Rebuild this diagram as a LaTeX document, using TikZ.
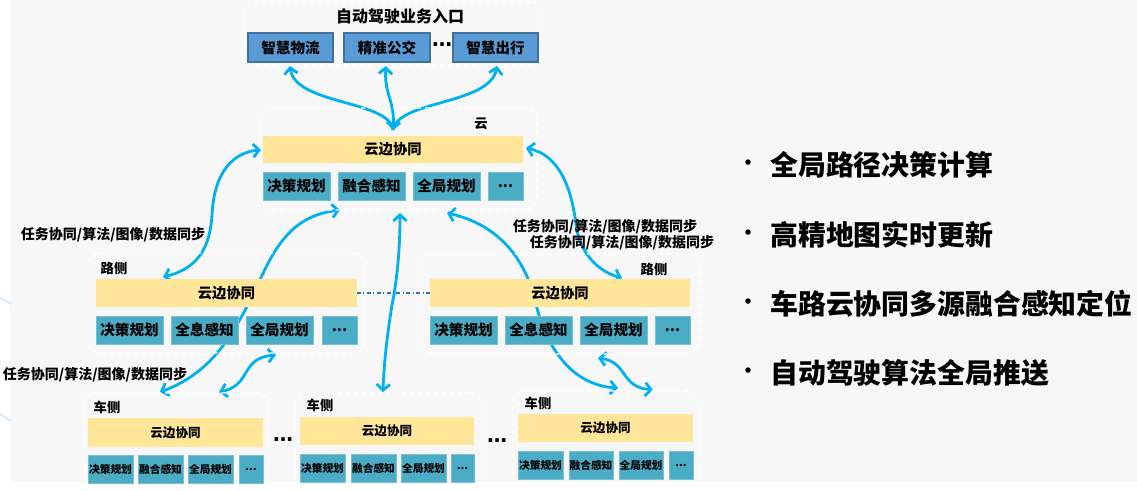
\documentclass[tikz,border=0pt]{standalone}
\usepackage{fontspec}
\setmainfont{Noto Sans CJK SC}
\newfontfamily\dvs{DejaVu Sans}
\usetikzlibrary{arrows.meta}
\definecolor{bgc}{HTML}{F7F7F7}
\definecolor{barY}{HTML}{FFE699}
\definecolor{tealB}{HTML}{4BACC6}
\definecolor{blueB}{HTML}{5B9BD5}
\definecolor{blueD}{HTML}{41719C}
\definecolor{arrC}{HTML}{00B0F0}
\definecolor{dashC}{HTML}{2E75B6}
\newcommand{\fsz}[1]{\fontsize{#1}{#1}\selectfont}
\begin{document}
\begin{tikzpicture}[x=0.75pt,y=-0.75pt,
  sz/.style 2 args={minimum width=#1*0.75pt, minimum height=#2*0.75pt},
  blk/.style={anchor=north west, inner sep=0pt, outer sep=0pt},
  grp/.style={blk, draw=white, dashed, line width=0.9pt, rounded corners=9pt},
  bar/.style={blk, fill=barY, font=\bfseries\fsz{10.7}},
  vbar/.style={blk, fill=barY, font=\bfseries\fsz{9.4}},
  sbox/.style={blk, fill=tealB, draw=tealB!75!white, line width=0.5pt, font=\bfseries\fsz{10.9}},
  vbox/.style={blk, fill=tealB, draw=tealB!75!white, line width=0.5pt, font=\bfseries\fsz{8}},
  topbox/.style={blk, fill=blueB, draw=blueD, line width=0.8pt, font=\bfseries\fsz{10.9}},
  ttl/.style={inner sep=0pt, font=\bfseries\fsz{12}},
  tag/.style={inner sep=0pt, font=\bfseries\fsz{10}},
  lbl/.style={inner sep=0pt, font=\bfseries\fsz{10.5}},
  dots/.style={inner sep=0pt, font=\dvs\bfseries\fsz{15}},
  bul/.style={inner sep=0pt, anchor=west, font=\bfseries\fsz{20.9}},
  bdot/.style={inner sep=0pt, font=\dvs\fsz{14}},
  conn/.style={draw=arrC, line width=2.1pt, -{Straight Barb[length=4.5pt,width=10pt]}},
  conn2/.style={draw=arrC, line width=2.1pt, {Straight Barb[length=4.5pt,width=10pt]}-{Straight Barb[length=4.5pt,width=10pt]}},
  ddash/.style={draw=dashC, line width=0.8pt, dash pattern=on 3pt off 1.8pt on 0.8pt off 1.8pt}
]
\useasboundingbox (0,0) rectangle (1137,490);
\clip (0,0) rectangle (1137,490);
\fill[white] (0,0) rectangle (1137,490);
\fill[bgc] (10,0) rectangle (1137,482);
\draw[arrC!25, line width=1pt] (0,298) .. controls (5,300) .. (11,304);
\draw[arrC!25, line width=1pt] (0,414) .. controls (5,417) .. (11,421);

% connector end points
\coordinate (ctop) at (393,130);
\coordinate (a1) at (290,66);
\coordinate (a2) at (386,66);
\coordinate (a3) at (497,66);
\coordinate (lt) at (163,277);
\coordinate (cl1) at (261,150);
\coordinate (cb1) at (340,210);
\coordinate (vl1) at (160,392);
\coordinate (sa) at (219,392);
\coordinate (sb) at (276,355);
\coordinate (mt) at (400,213);
\coordinate (mb) at (383,392);
\coordinate (cb2) at (447,213);
\coordinate (vr1) at (618,388);
\coordinate (sc) at (598,358);
\coordinate (sd) at (653,390);
\coordinate (cr1) at (526,148);
\coordinate (rt) at (622,278);

% connectors (behind the boxes)
\draw[conn] (ctop) .. controls (390,100) and (295,105) .. (a1);
\draw[conn2] (ctop) .. controls (395,100) and (384,95) .. (a2);
\draw[conn] (ctop) .. controls (398,100) and (490,105) .. (a3);
\draw[conn2] (lt) .. controls (200,268) and (210,245) .. (212,215) .. controls (214,170) and (235,152) .. (cl1);
\draw[conn2] (vl1) .. controls (220,370) and (240,320) .. (260,280) .. controls (280,235) and (300,215) .. (cb1);
\draw[conn2] (sa) .. controls (252,385) and (240,358) .. (sb);
\draw[conn2] (mt) .. controls (400,260) and (395,290) .. (392,305) .. controls (388,330) and (384,360) .. (mb);
\draw[conn2] (cb2) .. controls (500,225) and (525,260) .. (535,300) .. controls (545,345) and (570,385) .. (vr1);
\draw[conn2] (sc) .. controls (628,362) and (620,387) .. (sd);
\draw[conn2] (cr1) .. controls (560,155) and (572,190) .. (576,225) .. controls (580,255) and (600,272) .. (rt);

% top entry
\node[grp, sz={299}{63}] (topg) at (243,2) {};
\node[ttl] (ttl) at (400,16) {自动驾驶业务入口};
\node[topbox, sz={85}{29}] (b1) at (248,33) {智慧物流};
\node[topbox, sz={86}{29}] (b2) at (344,33) {精准公交};
\node[dots] (bd) at (442,47) {⋯};
\node[topbox, sz={85}{29}] (b3) at (453,33) {智慧出行};

% cloud
\node[grp, sz={277}{102}] (cg) at (260,108) {};
\node[tag] (cl) at (481,124) {云};
\node[bar, sz={260}{27}] (cbar) at (263,136) {云边协同};
\node[sbox, sz={67}{28}] (c1) at (263,172) {决策规划};
\node[sbox, sz={67}{28}] (c2) at (338,172) {融合感知};
\node[sbox, sz={67}{28}] (c3) at (413,172) {全局规划};
\node[sbox, sz={35}{28}] (c4) at (488,172) {...};

% left roadside
\node[grp, sz={277}{100}] (lg) at (88,253) {};
\node[tag] (ll) at (114,268) {路侧};
\node[bar, sz={261}{28}] (lbar) at (96,279) {云边协同};
\node[sbox, sz={67}{28}] (l1) at (96,316) {决策规划};
\node[sbox, sz={67}{28}] (l2) at (171,316) {全息感知};
\node[sbox, sz={67}{28}] (l3) at (246,316) {全局规划};
\node[sbox, sz={35}{28}] (l4) at (322,316) {...};

% right roadside
\node[grp, sz={277}{100}] (rg) at (422,254) {};
\node[tag] (rl) at (654,269) {路侧};
\node[bar, sz={260}{28}] (rbar) at (430,279) {云边协同};
\node[sbox, sz={67}{28}] (r1) at (430,316) {决策规划};
\node[sbox, sz={67}{28}] (r2) at (505,316) {全息感知};
\node[sbox, sz={67}{28}] (r3) at (580,316) {全局规划};
\node[sbox, sz={35}{28}] (r4) at (655,316) {...};

% vehicles
\node[grp, sz={186}{110}] (vg1) at (83,393) {};
\node[tag] (vt1) at (107,407) {车侧};
\node[vbar, sz={175}{29}] (vb1) at (88,418) {云边协同};
\node[vbox, sz={45}{28}] (v11) at (88,455) {决策规划};
\node[vbox, sz={45}{28}] (v12) at (138,455) {融合感知};
\node[vbox, sz={45}{28}] (v13) at (188,455) {全局规划};
\node[vbox, sz={24}{28}] (v14) at (239,455) {...};
\node[dots] (vd1) at (283,442) {⋯};

\node[grp, sz={187}{110}] (vg2) at (295,393) {};
\node[tag] (vt2) at (320,405) {车侧};
\node[vbar, sz={174}{28}] (vb2) at (300,417) {云边协同};
\node[vbox, sz={45}{28}] (v21) at (300,454) {决策规划};
\node[vbox, sz={45}{28}] (v22) at (351,454) {融合感知};
\node[vbox, sz={45}{28}] (v23) at (401,454) {全局规划};
\node[vbox, sz={23}{28}] (v24) at (451,454) {...};
\node[dots] (vd2) at (497,443) {⋯};

\node[grp, sz={186}{110}] (vg3) at (513,391) {};
\node[tag] (vt3) at (538,403) {车侧};
\node[vbar, sz={175}{28}] (vb3) at (518,414) {云边协同};
\node[vbox, sz={45}{28}] (v31) at (518,451) {决策规划};
\node[vbox, sz={44}{28}] (v32) at (569,451) {融合感知};
\node[vbox, sz={44}{28}] (v33) at (619,451) {全局规划};
\node[vbox, sz={24}{28}] (v34) at (669,451) {...};

% labels
\node[lbl] (t1) at (113,235) {任务协同/算法/图像/数据同步};
\node[lbl] (t2) at (605,227) {任务协同/算法/图像/数据同步};
\node[lbl] (t3) at (622,243) {任务协同/算法/图像/数据同步};
\node[lbl] (t4) at (95,375) {任务协同/算法/图像/数据同步};

% bullets
\node[bdot] (d1) at (748,165) {•};
\node[bul] (p1) at (770,165) {全局路径决策计算};
\node[bdot] (d2) at (748,235) {•};
\node[bul] (p2) at (770,235) {高精地图实时更新};
\node[bdot] (d3) at (748,304) {•};
\node[bul] (p3) at (770,304) {车路云协同多源融合感知定位};
\node[bdot] (d4) at (748,373) {•};
\node[bul] (p4) at (770,373) {自动驾驶算法全局推送};

\draw[ddash] (lbar.east) -- (rbar.west);
\end{tikzpicture}
\end{document}
